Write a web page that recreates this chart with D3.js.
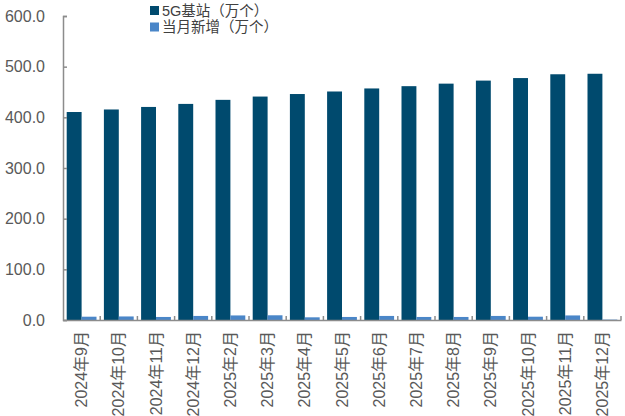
<!DOCTYPE html>
<html>
<head>
<meta charset="utf-8">
<script src="https://cdn.jsdelivr.net/npm/d3@7/dist/d3.min.js"></script>
<style>
  body { margin: 0; background: #fff; }
  text { font-family: "Liberation Sans", Arial, "Noto Sans CJK SC", sans-serif; }
</style>
</head>
<body>
<div id="chart"></div>
<script>
// data
const months = ['2024年9月', '2024年10月', '2024年11月', '2024年12月', '2025年2月', '2025年3月',
  '2025年4月', '2025年5月', '2025年6月', '2025年7月', '2025年8月', '2025年9月',
  '2025年10月', '2025年11月', '2025年12月'];
const stations = [410.5, 415.5, 420.5, 426.5, 434.5, 441, 446, 451, 457, 461.5, 466.5, 472.5, 477.5, 485, 486];
const newAdds = [6.5, 7, 6, 8, 9, 9.3, 5.3, 6, 8, 6, 6, 8, 6.5, 9, 0.8];
const seriesNames = ['5G基站（万个）', '当月新增（万个）'];
const yTicks = [0, 100, 200, 300, 400, 500, 600];

const colors = ['#004A6E', '#4A86C8'];
const axisColor = '#8C8C8C';
const W = 625, H = 416;
const margin = { top: 16, right: 4, bottom: 96, left: 63 };

const svg = d3.select('#chart').append('svg')
  .attr('width', W)
  .attr('height', H);

const x = d3.scaleBand().domain(months).range([margin.left, W - margin.right]);
const inner = d3.scaleBand().domain([0, 1])
  .range([3.7, x.bandwidth() - 3.7]);
const y = d3.scaleLinear().domain([0, 600]).range([H - margin.bottom, margin.top]);

// bars
const groups = svg.append('g').selectAll('g')
  .data(months)
  .join('g')
  .attr('transform', d => 'translate(' + x(d) + ',0)');

groups.append('rect')
  .attr('x', inner(0))
  .attr('width', inner.bandwidth())
  .attr('y', (d, i) => y(stations[i]))
  .attr('height', (d, i) => y(0) - y(stations[i]))
  .attr('fill', colors[0]);

groups.append('rect')
  .attr('x', inner(1))
  .attr('width', inner.bandwidth())
  .attr('y', (d, i) => y(newAdds[i]))
  .attr('height', (d, i) => y(0) - y(newAdds[i]))
  .attr('fill', colors[1]);

// y axis
const yAxis = svg.append('g')
  .attr('transform', 'translate(' + margin.left + ',0)')
  .call(d3.axisRight(y).tickValues(yTicks).tickSize(4).tickFormat(d3.format('.1f')));
yAxis.select('.domain').attr('stroke', axisColor).attr('stroke-width', 1.5);
yAxis.selectAll('line').attr('stroke', axisColor).attr('stroke-width', 1.5);
yAxis.selectAll('text')
  .attr('x', -18)
  .attr('text-anchor', 'end')
  .attr('fill', '#595959')
  .style('font-size', '16px');

// x axis
const xAxis = svg.append('g')
  .attr('transform', 'translate(0,' + y(0) + ')')
  .call(d3.axisBottom(x).tickSize(0).tickSizeOuter(0));
xAxis.select('.domain').attr('stroke', axisColor).attr('stroke-width', 1.5);
xAxis.selectAll('text')
  .attr('transform', 'rotate(-90)')
  .attr('x', -11)
  .attr('y', 0)
  .attr('dy', '0.35em')
  .attr('text-anchor', 'end')
  .attr('fill', '#595959')
  .style('font-size', '16px');

// tick marks between categories, pointing up into the plot
svg.append('g').selectAll('line')
  .data(months)
  .join('line')
  .attr('x1', d => x(d) + x.bandwidth())
  .attr('x2', d => x(d) + x.bandwidth())
  .attr('y1', y(0))
  .attr('y2', y(0) - 4)
  .attr('stroke', axisColor)
  .attr('stroke-width', 1.5);

// legend
const legend = svg.append('g').attr('transform', 'translate(150,6)');
seriesNames.forEach((name, i) => {
  const row = legend.append('g').attr('transform', 'translate(0,' + i * 16.5 + ')');
  row.append('rect')
    .attr('width', 9).attr('height', 9)
    .attr('fill', colors[i]);
  row.append('text')
    .attr('x', 12).attr('y', 4.5)
    .attr('dy', '0.36em')
    .attr('fill', '#404040')
    .style('font-size', '14.5px')
    .text(name);
});
</script>
</body>
</html>
